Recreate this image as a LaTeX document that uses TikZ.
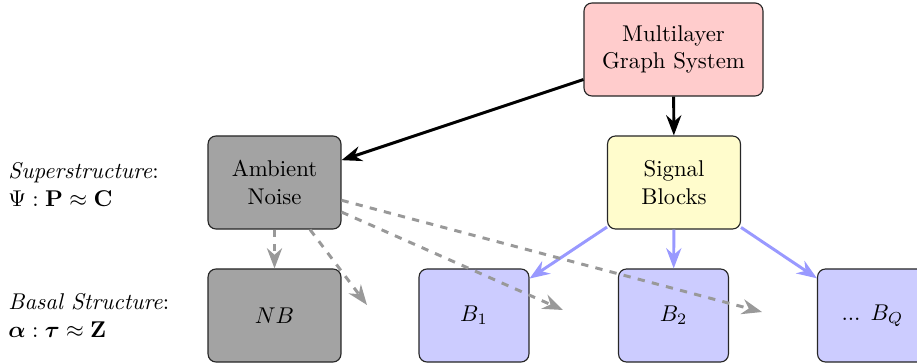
\documentclass[tikz,border=0pt]{standalone}
\usepackage{amsmath,bm}
\usetikzlibrary{arrows.meta}
\begin{document}
\begin{tikzpicture}[x=0.4386pt,y=-0.4386pt,
  box/.style={draw=black!85,line width=0.5pt,rounded corners=3.5pt,align=center,inner sep=0pt,minimum height=40.8pt},
  wide/.style={box,minimum width=58.3pt},
  blk/.style={box,minimum width=48.2pt,fill=blue!20},
  blackarrow/.style={line width=1.3pt,-{Stealth}},
  bluearrow/.style={line width=1.3pt,blue!40,-{Stealth}},
  grayarrow/.style={line width=1.3pt,black!40,dash pattern=on 3.2pt off 3.2pt,-{Stealth}},
  lbl/.style={anchor=west,align=left,inner sep=0pt}]
\useasboundingbox (0,0) rectangle (917,364);
\node[box,minimum width=78.5pt,fill=red!20] (multi) at (673.5,49.5) {Multilayer\\Graph System};
\node[wide,fill=yellow!20] (signal) at (674,182.5) {Signal\\Blocks};
\node[wide,fill=black!36] (noise) at (274.5,182.5) {Ambient\\Noise};
\node[wide,fill=black!36] (nb) at (274.5,315.5) {$NB$};
\node[blk] (b1) at (474,315.5) {$B_1$};
\node[blk] (b2) at (673.5,315.5) {$B_2$};
\node[blk] (bq) at (872.5,315.5) {... $B_Q$};
\node[lbl] (sup) at (8,184.5) {\textit{Superstructure}:\\$\Psi:\mathbf{P}\approx\mathbf{C}$};
\node[lbl] (bas) at (8,315.5) {\textit{Basal Structure}:\\$\bm{\alpha}:\bm{\tau}\approx\mathbf{Z}$};
\coordinate (e1) at (367,305);
\coordinate (e2) at (563,310);
\coordinate (e3) at (762,312);
\draw[blackarrow] (multi) -- (noise);
\draw[blackarrow] (multi) -- (signal);
\draw[bluearrow] (signal) -- (b1);
\draw[bluearrow] (signal) -- (b2);
\draw[bluearrow] (signal) -- (bq);
\draw[grayarrow] (noise) -- (nb);
\draw[grayarrow] (noise) -- (e1);
\draw[grayarrow] (noise) -- (e2);
\draw[grayarrow] (noise) -- (e3);
\end{tikzpicture}
\end{document}
